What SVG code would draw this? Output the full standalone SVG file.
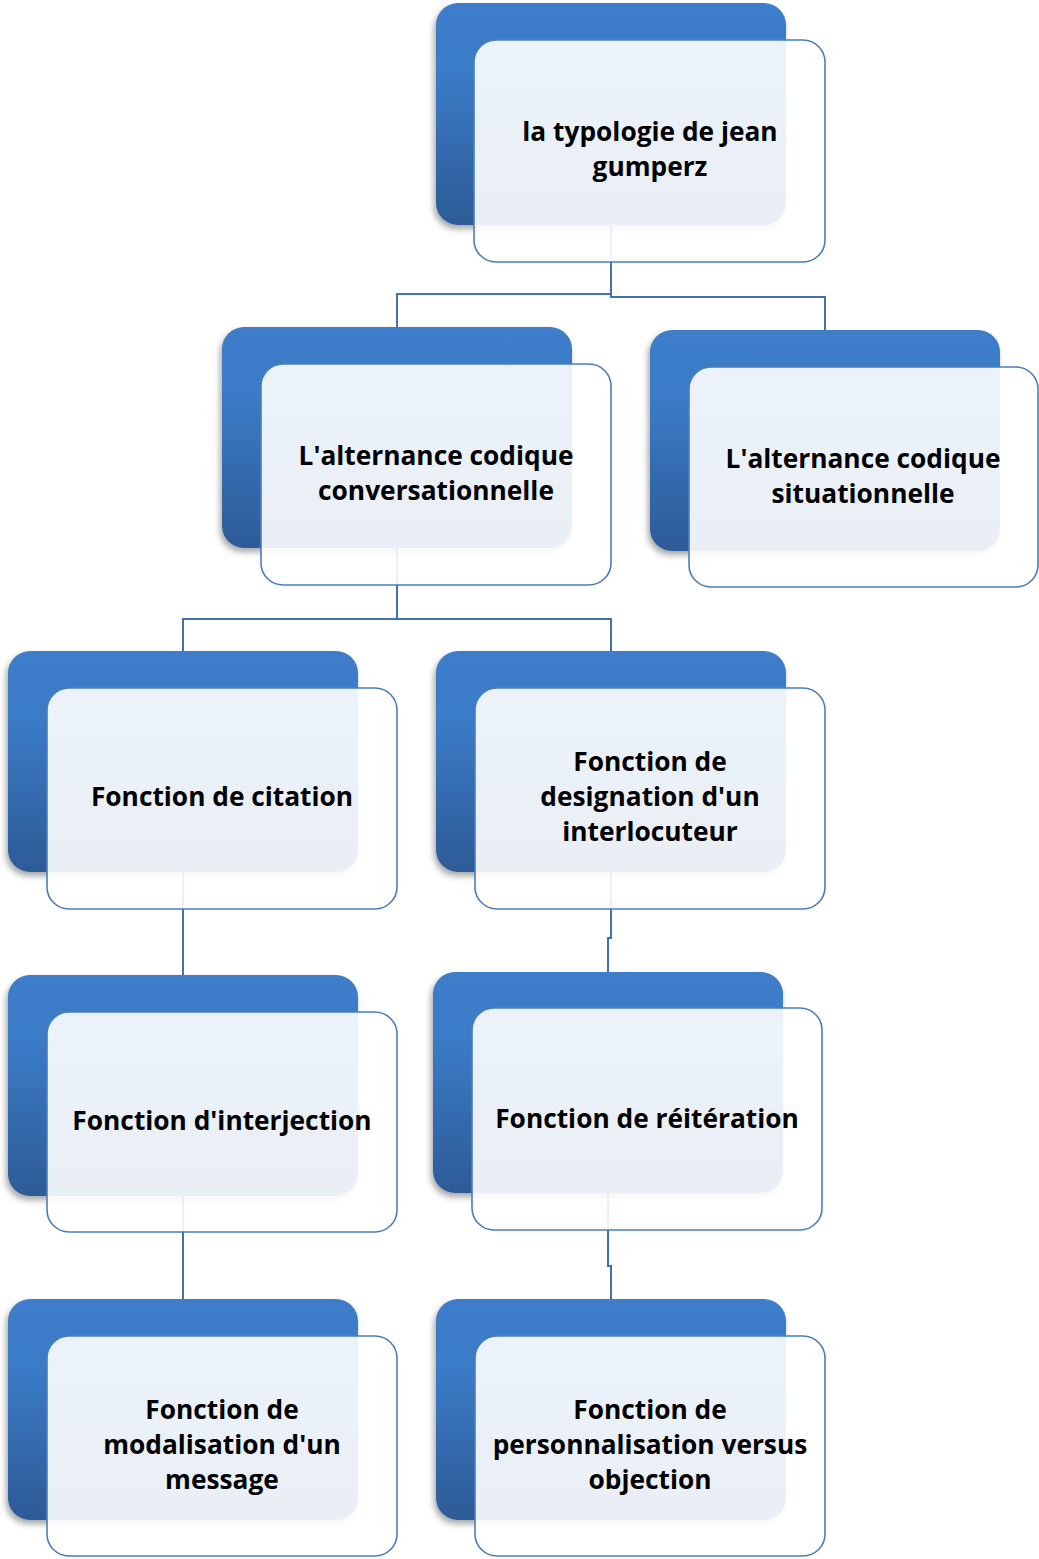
<svg xmlns="http://www.w3.org/2000/svg" width="1039" height="1559" viewBox="0 0 1039 1559">
<defs>
<linearGradient id="bg" x1="0" y1="0" x2="0" y2="1">
<stop offset="0" stop-color="#3c7dca"/>
<stop offset="0.3" stop-color="#3b7bc8"/>
<stop offset="1" stop-color="#2d5b96"/>
</linearGradient>
<filter id="sh" x="-10%" y="-10%" width="120%" height="125%">
<feDropShadow dx="-2" dy="4" stdDeviation="3" flood-color="#000" flood-opacity="0.35"/>
</filter>
<style>
.back{fill:url(#bg);filter:url(#sh)}
.front{fill:#ffffff;fill-opacity:0.9;stroke:#4a7ebb;stroke-width:1.6}
.conn{fill:none;stroke:#3f72af;stroke-width:2}
text{font-family:"Open Sans","Noto Sans","Liberation Sans",sans-serif;font-weight:bold;font-size:26.3px;fill:#000;text-anchor:middle;dominant-baseline:central}
</style>
</defs>
<rect width="1039" height="1559" fill="#fff"/>
<g id="connectors">
<path class="conn" d="M611,225 V294 H397 V327"/>
<path class="conn" d="M611,225 V297 H825 V330"/>
<path class="conn" d="M397,548 V619 H183 V651"/>
<path class="conn" d="M397,548 V619 H611 V651"/>
<path class="conn" d="M183,872 V975"/>
<path class="conn" d="M183,1196 V1299"/>
<path class="conn" d="M611,872 V938 H608 V972"/>
<path class="conn" d="M608,1193 V1266 H611 V1299"/>
</g>
<g id="n1">
<rect class="back" x="436" y="3" width="350" height="222" rx="22"/>
<rect class="front" x="474" y="40" width="351" height="222" rx="22"/>
<text x="650" y="131">la typologie de jean</text>
<text x="650" y="166">gumperz</text>
</g>
<g id="n2">
<rect class="back" x="222" y="327" width="350" height="221" rx="22"/>
<rect class="front" x="261" y="364" width="350" height="221" rx="22"/>
<text x="436" y="455">L'alternance codique</text>
<text x="436" y="490">conversationnelle</text>
</g>
<g id="n3">
<rect class="back" x="650" y="330" width="350" height="221" rx="22"/>
<rect class="front" x="689" y="367" width="349" height="220" rx="22"/>
<text x="863" y="458">L'alternance codique</text>
<text x="863" y="493">situationnelle</text>
</g>
<g id="n4">
<rect class="back" x="8" y="651" width="350" height="221" rx="22"/>
<rect class="front" x="47" y="688" width="350" height="221" rx="22"/>
<text x="222" y="796">Fonction de citation</text>
</g>
<g id="n5">
<rect class="back" x="436" y="651" width="350" height="221" rx="22"/>
<rect class="front" x="475" y="688" width="350" height="221" rx="22"/>
<text x="650" y="761">Fonction de</text>
<text x="650" y="796">designation d'un</text>
<text x="650" y="831">interlocuteur</text>
</g>
<g id="n6">
<rect class="back" x="8" y="975" width="350" height="221" rx="22"/>
<rect class="front" x="47" y="1012" width="350" height="220" rx="22"/>
<text x="222" y="1120">Fonction d'interjection</text>
</g>
<g id="n7">
<rect class="back" x="433" y="972" width="350" height="221" rx="22"/>
<rect class="front" x="472" y="1008" width="350" height="222" rx="22"/>
<text x="647" y="1118">Fonction de réitération</text>
</g>
<g id="n8">
<rect class="back" x="8" y="1299" width="350" height="221" rx="22"/>
<rect class="front" x="47" y="1336" width="350" height="220" rx="22"/>
<text x="222" y="1409">Fonction de</text>
<text x="222" y="1444">modalisation d'un</text>
<text x="222" y="1479">message</text>
</g>
<g id="n9">
<rect class="back" x="436" y="1299" width="350" height="221" rx="22"/>
<rect class="front" x="475" y="1336" width="350" height="220" rx="22"/>
<text x="650" y="1409">Fonction de</text>
<text x="650" y="1444">personnalisation versus</text>
<text x="650" y="1479">objection</text>
</g>
</svg>
